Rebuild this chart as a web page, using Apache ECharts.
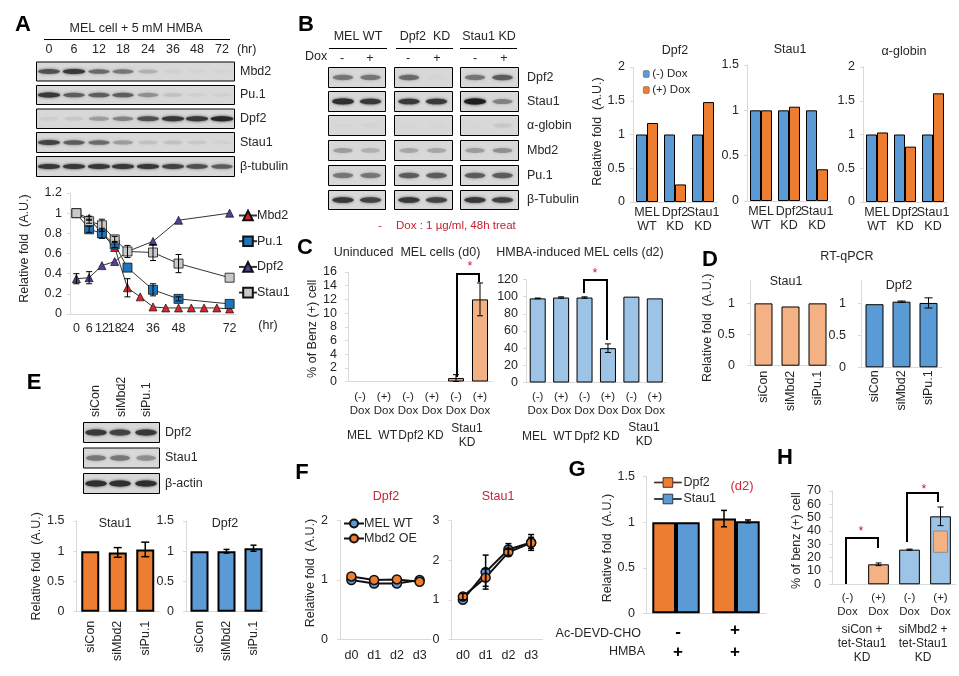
<!DOCTYPE html>
<html><head><meta charset="utf-8">
<style>html,body{margin:0;padding:0;background:#fff}#c{width:959px;height:676px}</style>
<script src="https://cdn.jsdelivr.net/npm/echarts@6/dist/echarts.min.js"></script>
</head><body><div id="c"></div>
<script>
// ---------- DATA ----------
const hoursA=['0','6','12','18','24','','36','','48','','','','72'];
const mbd2A=[1,0.95,0.8,0.66,0.26,0.17,0.07,0.06,0.06,0.06,0.06,0.06,0.05];
const pu1A=[1,0.84,0.8,0.69,0.46,null,0.24,null,0.15,null,null,null,0.1];
const dpf2A=[0.35,0.36,0.48,0.52,0.62,null,0.72,null,0.93,null,null,null,1];
const stau1A=[1,0.92,0.88,0.74,0.62,null,0.61,null,0.5,null,null,null,0.36];
const mbd2AErr=[0,0.02,0,0,0.09,0,0,0,0,0,0,0,0];
const pu1AErr=[0,0.03,0.05,0.03,0,0,0.06,0,0.02,0,0,0,0];
const dpf2AErr=[0.05,0.06,0,0,0,0,0,0,0,0,0,0,0];
const stau1AErr=[0,0.02,0.06,0.03,0.06,0,0.08,0,0.09,0,0,0,0];

const catsB=['MEL\nWT','Dpf2\nKD','Stau1\nKD'];
const dpf2BMinus=[1,1,1], dpf2BPlus=[1.17,0.26,1.48];
const stau1BMinus=[1,1,1], stau1BPlus=[1,1.04,0.35];
const globinBMinus=[1,1,1], globinBPlus=[1.03,0.82,1.61];

const catsC=['(-)\nDox','(+)\nDox','(-)\nDox','(+)\nDox','(-)\nDox','(+)\nDox'];
const benzD0=[null,null,null,null,0.5,12], benzD0Err=[0,0,0,0,0.5,2.4];
const benzD2=[98,99,99,40,100,98], benzD2Err=[0.4,0.8,0.8,5,0,0];

const catsSi=['siCon','siMbd2','siPu.1'];
const stau1D=[1,0.95,1], dpf2D=[0.99,1.03,1.01], dpf2DErr=[0,0.01,0.08];
const stau1E=[1,0.98,1.03], stau1EErr=[0,0.08,0.12];
const dpf2E=[1,1,1.05], dpf2EErr=[0,0.03,0.05];

const days=['d0','d1','d2','d3'];
const dpf2FWT=[1,0.94,0.94,1], dpf2FOE=[1.06,1,1.01,0.97];
const stau1FWT=[1,1.7,2.27,2.45], stau1FOE=[1.08,1.56,2.2,2.44];
const stau1FWTErr=[0,0.43,0.15,0.2], stau1FOEErr=[0.08,0.22,0.08,0.14];

const catsG=['a','b'];
const dpf2G=[1,1.04], dpf2GErr=[0,0.09];
const stau1G=[1,1.01], stau1GErr=[0,0.015];

const catsH=['(-)\nDox','(+)\nDox','(-)\nDox','(+)\nDox'];
const benzH=[null,15,26,51], benzHErr=[0,1,0.4,7];
const benzHInset=[3,24,40];

// blot band strengths, one array per row
const blotA={Mbd2:[.75,.85,.65,.6,.35,.1,.08,.06],'Pu.1':[.85,.7,.7,.7,.5,.25,.12,.1],Dpf2:[.15,.2,.45,.55,.75,.85,.85,.95],Stau1:[.8,.7,.65,.45,.25,.25,.2,.1],'β-tubulin':[.85,.85,.85,.85,.85,.8,.75,.7]};
const blotB={Dpf2:[.6,.6,.65,.07,.6,.7],Stau1:[.9,.85,.85,.85,1,.55],'α-globin':[.05,.08,.03,.04,.03,.2],Mbd2:[.45,.35,.4,.4,.45,.5],'Pu.1':[.6,.6,.7,.7,.7,.7],'β-Tubulin':[.85,.8,.85,.8,.85,.8]};
const blotE={Dpf2:[.85,.8,.85],Stau1:[.6,.6,.5],'β-actin':[.9,.9,.9]};

// ---------- STYLE ----------
const FONT='"Liberation Sans",Arial,sans-serif', INK='#262626', GREY='#d9d9d9';
const BLUE='#5b9bd5', ORANGE='#ed7d31', LORANGE='#f4b183', LBLUE='#9dc3e6', RED='#c8202f';
const grids=[],xAxes=[],yAxes=[],series=[],titles=[],legends=[],els=[];

function panel(o){
  const i=grids.length;
  grids.push({left:o.x,top:o.top,width:o.w,height:o.h});
  xAxes.push({gridIndex:i,type:'category',data:o.cats,
    axisLine:{show:true,lineStyle:{color:GREY}},axisTick:{show:false},
    axisLabel:{show:!o.noX,interval:0,hideOverlap:false,color:INK,fontFamily:FONT,fontSize:o.xSize||12.5,lineHeight:o.xLine||14,rotate:o.rot||0,margin:o.xMargin||6}});
  const y={gridIndex:i,type:'value',min:0,max:o.max,interval:o.step,splitLine:{show:false},
    axisLine:{show:true,lineStyle:{color:GREY}},axisTick:{show:true,length:3,lineStyle:{color:GREY}},
    axisLabel:{color:INK,fontFamily:FONT,fontSize:o.ySize||12.5,margin:o.yMargin||8}};
  if(o.shown){y.axisLabel.customValues=o.shown;y.axisTick.customValues=o.shown;}
  if(o.yName){
    const s=o.nameUp||0;
    y.name=o.yName;y.nameLocation='middle';y.nameGap=o.nameGap;y.nameRotate=90;
    y.nameTextStyle={color:INK,fontFamily:FONT,fontSize:12.5,padding:s>0?[0,0,0,2*s]:[0,-2*s,0,0]};
  }
  yAxes.push(y);
  return i;
}
function bar(g,name,data,color,width,border,extra){
  series.push(Object.assign({type:'bar',name,data,xAxisIndex:g,yAxisIndex:g,barWidth:width,barGap:0,
    itemStyle:{color,borderColor:'#000',borderWidth:border},silent:true},extra||{}));
}
function errors(g,vals,errs,dodge,w,cap){
  const d=[];vals.forEach((v,i)=>{if(v!=null&&errs[i]>0)d.push([i,v-errs[i],v+errs[i]]);});
  series.push({type:'custom',xAxisIndex:g,yAxisIndex:g,silent:true,z:6,data:d,encode:{x:0,y:[1,2]},
    renderItem:(p,api)=>{
      const a=api.coord([api.value(0),api.value(1)]),b=api.coord([api.value(0),api.value(2)]),x=a[0]+(dodge||0),c=cap||3;
      const st={stroke:'#000',lineWidth:w||1,fill:null};
      return {type:'group',children:[
        {type:'line',shape:{x1:x,y1:a[1],x2:x,y2:b[1]},style:st},
        {type:'line',shape:{x1:x-c,y1:a[1],x2:x+c,y2:a[1]},style:st},
        {type:'line',shape:{x1:x-c,y1:b[1],x2:x+c,y2:b[1]},style:st}]};
    }});
}
function line(g,name,data,sym,size,color,lw,border,lineColor){
  series.push({type:'line',name,data,xAxisIndex:g,yAxisIndex:g,connectNulls:true,symbol:sym,symbolSize:size,showSymbol:true,silent:true,
    z:3,lineStyle:{color:lineColor||'#333',width:lw},itemStyle:{color,borderColor:'#111',borderWidth:border}});
}
function title(text,x,y,color,size){
  titles.push({text,left:x,top:y,textAlign:'center',textVerticalAlign:'middle',padding:0,
    textStyle:{color:color||INK,fontFamily:FONT,fontSize:size||12.5,fontWeight:'normal'}});
}
function legend(names,left,top,o){
  legends.push(Object.assign({data:names,left,top,orient:'vertical',selectedMode:false,padding:0},o));
}
function legendText(pad,size){return {color:INK,fontFamily:FONT,fontSize:size||12.5,padding:[0,0,0,pad]};}
function T(x,y,text,o){
  o=o||{};
  els.push({type:'text',x,y,rotation:o.rot||0,z:20,silent:true,style:{text,fill:o.color||INK,fontFamily:FONT,fontSize:o.size||12.5,
    fontWeight:o.weight||'normal',textAlign:o.align||'center',textVerticalAlign:'middle',lineHeight:o.lh||14}});
}
function L(pts,w,c){
  els.push({type:'polyline',z:15,silent:true,shape:{points:pts},style:{stroke:c||'#000',lineWidth:w||1,fill:null}});
}
function letter(x,y,t){T(x,y,t,{size:22,weight:'bold',color:'#000',lh:24});}
function blot(x,y,w,h,centers,vals,bw,bh){
  els.push({type:'rect',z:10,silent:true,shape:{x,y,width:w,height:h},style:{fill:'#d8d8d8',stroke:'#000',lineWidth:1}});
  vals.forEach((v,i)=>{
    const g=Math.round(30+(1-v)*170);
    const col='rgba('+g+','+g+','+g+','+Math.min(1,v*1.1+0.05)+')';
    els.push({type:'ellipse',z:11,silent:true,shape:{cx:centers[i],cy:y+h/2,rx:bw*(0.8+0.2*v),ry:bh*(0.7+0.3*v)},style:{fill:col,shadowColor:col,shadowBlur:3}});
  });
}

// ---------- LETTERS ----------
letter(23,25,'A');letter(306,25,'B');letter(305,248,'C');letter(710,260,'D');letter(34,383,'E');letter(302,473,'F');letter(577,470,'G');letter(785,458,'H');

// ---------- A ----------
T(136,29,'MEL cell + 5 mM HMBA');L([[44,39.5],[230,39.5]]);
const timeX=[49,74,99,123,148,173,197,222];
['0','6','12','18','24','36','48','72'].forEach((t,i)=>T(timeX[i],50,t));T(237,50,'(hr)',{align:'left'});
const rowsA=[[62,19],[85.5,19],[109,19.5],[132.5,20],[156.5,20]];
Object.keys(blotA).forEach((k,i)=>{blot(36.5,rowsA[i][0],198,rowsA[i][1],timeX,blotA[k],11.5,2.6);T(240,rowsA[i][0]+rowsA[i][1]/2,k,{align:'left'});});
const gA=panel({x:70,top:193,w:166,h:121,cats:hoursA,max:1.2,step:.2,yName:'Relative fold  (A.U.)',nameGap:39,nameUp:5,yMargin:8,xMargin:8});
errors(gA,mbd2A,mbd2AErr);errors(gA,pu1A,pu1AErr);errors(gA,dpf2A,dpf2AErr);errors(gA,stau1A,stau1AErr);
line(gA,'Mbd2',mbd2A,'triangle',8,'#d8262c',1,.7);
line(gA,'Pu.1',pu1A,'rect',9,'#1c76bf',1,.8);
line(gA,'Dpf2',dpf2A,'triangle',8,'#5a3d98',1,.7);
line(gA,'Stau1',stau1A,'rect',9,'#c9c9c9',1,.8);
legend(['Mbd2','Pu.1','Dpf2','Stau1'],238,209,{itemWidth:18,itemHeight:12,itemGap:12.7,itemStyle:{},textStyle:legendText(-5)});
T(268,326,'(hr)');

// ---------- B blots ----------
[['MEL WT',358,329,387],['Dpf2  KD',425,396,453],['Stau1 KD',489,460,517]].forEach(h=>{T(h[1],37,h[0]);L([[h[2],48.5],[h[3],48.5]]);});
T(305,57,'Dox',{align:'left'});
[342,370,408,437,475,504].forEach((x,i)=>T(x,59,i%2?'+':'-'));
const colsB=[[328.5,57],[394.5,58],[460.5,58]], rowsB=[[67.5,20],[91.5,20],[115.5,20],[140.5,20],[165.5,20],[190.5,19]];
Object.keys(blotB).forEach((k,r)=>{
  colsB.forEach((c,j)=>blot(c[0],rowsB[r][0],c[1],rowsB[r][1],[c[0]+14.5,c[0]+42],blotB[k].slice(j*2,j*2+2),11,3));
  T(527,rowsB[r][0]+rowsB[r][1]/2,k,{align:'left'});
});
T(380,226,'-',{color:RED,size:11.5});T(396,226,'Dox : 1 µg/ml, 48h treat',{color:RED,size:11.5,align:'left'});

// ---------- B bars ----------
const gB1=panel({x:633,top:67,w:84,h:135,cats:catsB,max:2,step:.5,yName:'Relative fold  (A.U.)',nameGap:27,nameUp:3,xMargin:4});
bar(gB1,'(-) Dox',dpf2BMinus,BLUE,11,1);bar(gB1,'(+) Dox',dpf2BPlus,ORANGE,11,1);
const gB2=panel({x:747,top:65,w:84,h:136,cats:catsB,max:1.5,step:.5,xMargin:4});
bar(gB2,'(-) Dox',stau1BMinus,BLUE,11,1);bar(gB2,'(+) Dox',stau1BPlus,ORANGE,11,1);
const gB3=panel({x:863,top:67,w:84,h:135,cats:catsB,max:2,step:.5,xMargin:4});
bar(gB3,'(-) Dox',globinBMinus,BLUE,11,1);bar(gB3,'(+) Dox',globinBPlus,ORANGE,11,1);
title('Dpf2',675,51);title('Stau1',790,50);title('α-globin',904,52);
legend(['(-) Dox','(+) Dox'],643,68,{itemWidth:6,itemHeight:7,itemGap:4,itemStyle:{borderWidth:.5,borderColor:'#555'},textStyle:legendText(-2,11.5)});

// ---------- C ----------
title('Uninduced  MEL cells (d0)',407,253);title('HMBA-induced MEL cells (d2)',580,253);
const gC1=panel({x:348,top:272,w:144,h:109.5,cats:catsC,xSize:11.5,max:16,step:2,yName:'% of Benz (+) cell',nameGap:26,nameUp:-2,yMargin:11,xMargin:8});
bar(gC1,'Uninduced',benzD0,LORANGE,16,1);errors(gC1,benzD0,benzD0Err);
const gC2=panel({x:526,top:279.5,w:140.5,h:103,cats:catsC,xSize:11.5,max:120,step:20,xMargin:7,yMargin:8});
bar(gC2,'HMBA-induced',benzD2,LBLUE,16,1);errors(gC2,benzD2,benzD2Err);
L([[457,377],[457,274],[479,274],[479,282]],2);T(470,267,'*',{color:RED});
L([[584,293],[584,280],[607,280],[607,340]],2);T(595,274,'*',{color:RED});
[['MEL  WT',372,436],['Dpf2 KD',421,436],['Stau1\nKD',467,436],['MEL  WT',547,437],['Dpf2 KD',597,437],['Stau1\nKD',644,435]].forEach(a=>T(a[1],a[2],a[0],{size:12}));

// ---------- D ----------
T(847,257,'RT-qPCR');title('Stau1',786,282);title('Dpf2',899,286);
const gD1=panel({x:750,top:280,w:81,h:85.7,cats:catsSi,max:1.375,step:.5,shown:[0,.5,1],yName:'Relative fold  (A.U.)',nameGap:22,nameUp:-5,rot:90,xMargin:5,yMargin:15});
bar(gD1,'Stau1 RT',stau1D,LORANGE,18,1);
const gD2=panel({x:861,top:280,w:81,h:87.3,cats:catsSi,max:1.37,step:.5,shown:[0,.5,1],rot:90,xMargin:3,yMargin:15});
bar(gD2,'Dpf2 RT',dpf2D,BLUE,18,1);errors(gD2,dpf2D,dpf2DErr,0,1,4);

// ---------- E ----------
const siX=[96,122,147];
catsSi.forEach((t,i)=>els.push({type:'text',x:siX[i],y:417,rotation:Math.PI/2,z:20,silent:true,style:{text:t,fill:INK,fontFamily:FONT,fontSize:12.5,textAlign:'left',textVerticalAlign:'middle'}}));
const rowsE=[[422.5,20],[448,20],[473.5,20]];
Object.keys(blotE).forEach((k,i)=>{blot(83.5,rowsE[i][0],76,rowsE[i][1],[96,120,146],blotE[k],11,3.2);T(165,rowsE[i][0]+rowsE[i][1]/2,k,{align:'left'});});
const gE1=panel({x:76.5,top:521,w:82.5,h:90.7,cats:catsSi,max:1.5,step:.5,yName:'Relative fold  (A.U.)',nameGap:33,rot:90,xMargin:9,yMargin:12});
bar(gE1,'Stau1 E',stau1E,ORANGE,18,2);errors(gE1,stau1E,stau1EErr,0,1.5,4);
const gE2=panel({x:186,top:521,w:81,h:90.7,cats:catsSi,max:1.5,step:.5,rot:90,xMargin:9,yMargin:12});
bar(gE2,'Dpf2 E',dpf2E,BLUE,18,2);errors(gE2,dpf2E,dpf2EErr,0,1.5,3);
title('Stau1',115,524);title('Dpf2',225,524);

// ---------- F ----------
title('Dpf2',386,497,'#c8243c');title('Stau1',498,497,'#c8243c');
const gF1=panel({x:340,top:520.7,w:91,h:118.6,cats:days,max:2,step:1,yName:'Relative fold  (A.U.)',nameGap:15,nameUp:7,yMargin:12,xMargin:9});
line(gF1,'MEL WT',dpf2FWT,'circle',9,BLUE,2,1.5,'#111');
line(gF1,'Mbd2 OE',dpf2FOE,'circle',9,ORANGE,2,1.5,'#111');
const gF2=panel({x:451.5,top:520.7,w:91,h:118.6,cats:days,max:3,step:1,yMargin:12,xMargin:9});
errors(gF2,stau1FWT,stau1FWTErr,0,1.5,3);errors(gF2,stau1FOE,stau1FOEErr,0,1.5,3);
line(gF2,'MEL WT',stau1FWT,'circle',9,BLUE,2,1.5,'#111');
line(gF2,'Mbd2 OE',stau1FOE,'circle',9,ORANGE,2,1.5,'#111');
legend(['MEL WT','Mbd2 OE'],343,517,{itemWidth:20,itemHeight:10,itemGap:2,z:12,itemStyle:{},textStyle:legendText(-5)});

// ---------- G ----------
const gG=panel({x:646,top:476.7,w:120,h:136.6,cats:catsG,noX:true,max:1.5,step:.5,yName:'Relative fold  (A.U.)',nameGap:31,nameUp:-3,yMargin:11});
bar(gG,'Dpf2 ',dpf2G,ORANGE,23.7,2);bar(gG,'Stau1 ',stau1G,BLUE,23.7,2);
errors(gG,dpf2G,dpf2GErr,-12,1.5,3);errors(gG,stau1G,stau1GErr,12,1.5,3);
const legIcon='path://M0 4.6H9V0H19V4.6H28V5.4H19V10H9V5.4H0Z';
legend(['Dpf2 ','Stau1 '],654,476,{itemWidth:27,itemHeight:10,itemGap:3.5,icon:legIcon,itemStyle:{borderColor:'#111',borderWidth:.8},textStyle:legendText(-3)});
T(742,486,'(d2)',{color:'#d8243c',size:13});
T(641,634,'Ac-DEVD-CHO',{align:'right'});T(645,652,'HMBA',{align:'right'});
T(678,632,'-',{size:17,weight:'bold',color:'#000'});T(735,630,'+',{size:17,weight:'bold',color:'#000'});
T(678,652,'+',{size:17,weight:'bold',color:'#000'});T(735,652,'+',{size:17,weight:'bold',color:'#000'});

// ---------- H ----------
const gH=panel({x:832,top:491,w:124,h:93.3,cats:catsH,xSize:11.5,max:70,step:10,yName:'% of benz (+) cell',nameGap:29,nameUp:-3,yMargin:11,xMargin:7});
series.push({type:'bar',name:'Benz H',xAxisIndex:gH,yAxisIndex:gH,barWidth:20.7,silent:true,
  data:benzH.map((v,i)=>({value:v,itemStyle:{color:i===1?LORANGE:LBLUE,borderColor:'#000',borderWidth:1}}))});
series.push({type:'custom',xAxisIndex:gH,yAxisIndex:gH,silent:true,z:4,data:[benzHInset],encode:{x:0,y:[1,2]},
  renderItem:(p,api)=>{const a=api.coord([api.value(0),api.value(1)]),b=api.coord([api.value(0),api.value(2)]);
    return {type:'rect',shape:{x:a[0]-7,y:b[1],width:14,height:a[1]-b[1]},style:{fill:LORANGE,stroke:'#8c8c8c',lineWidth:1}};}});
errors(gH,benzH,benzHErr,0,1,3);
L([[846,584],[846,538],[878,538],[878,548]],2);T(861,532,'*',{color:RED});
L([[907,542],[907,493],[938,493],[938,502]],2);T(924,490,'*',{color:RED});
T(862,644,'siCon +\ntet-Stau1\nKD',{size:12});T(923,644,'siMbd2 +\ntet-Stau1\nKD',{size:12});

echarts.init(document.getElementById('c'),null,{renderer:'canvas'}).setOption({
  animation:false,backgroundColor:'#fff',title:titles,grid:grids,xAxis:xAxes,yAxis:yAxes,legend:legends,series,graphic:{elements:els}
});
</script>
</body></html>
